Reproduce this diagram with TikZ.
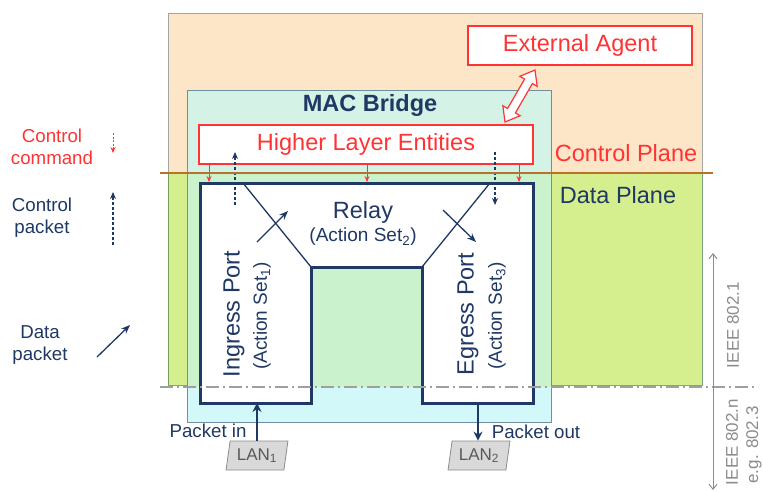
\documentclass[tikz,border=0pt]{standalone}
\usepackage{fontspec}
\setmainfont{Liberation Sans}
\usetikzlibrary{arrows.meta,shapes.geometric}
\definecolor{navyc}{HTML}{1F3864}
\definecolor{redc}{HTML}{FF3333}
\definecolor{orangebg}{HTML}{FDE5C8}
\definecolor{greenbg}{HTML}{D6EF8E}
\definecolor{bridgetop}{HTML}{D4F3E6}
\definecolor{bridgemid}{HTML}{CAF2CC}
\definecolor{bridgebot}{HTML}{D2F8FA}
\definecolor{bridgeline}{HTML}{6F8FA0}
\definecolor{brownc}{HTML}{B8732A}
\definecolor{grayc}{HTML}{8C8C8C}
\definecolor{lantext}{HTML}{595959}
\newcommand\FzBig{\fontsize{23.5}{28}\selectfont}
\newcommand\FzMid{\fontsize{19}{22}\selectfont}
\newcommand\FzLeg{\fontsize{18.7}{22}\selectfont}
\newcommand\FzSm{\fontsize{17}{20}\selectfont}
\begin{document}
\begin{tikzpicture}[x=1pt,y=-1pt,
  redbox/.style={draw=redc, line width=1.8pt, fill=white, text=redc, font=\FzBig, inner sep=0pt},
  navytext/.style={text=navyc, inner sep=0pt},
  dataarrow/.style={draw=navyc, line width=1.3pt, -{Stealth[length=9pt,width=7pt]}},
  pktarrow/.style={draw=navyc, line width=2.4pt, -{Stealth[length=9pt,width=9pt]}},
  ctrlpkt/.style={draw=navyc, line width=1.2pt, dash pattern=on 3pt off 2pt, -{Stealth[length=7pt,width=6pt]}},
  cmdarrow/.style={draw=redc, line width=0.8pt, -{Stealth[length=6pt,width=5pt]}},
  lanbox/.style={trapezium, trapezium left angle=78, trapezium right angle=102, trapezium stretches=true,
     draw=grayc, line width=0.8pt, fill=gray!30, text=lantext, font=\FzSm, minimum width=62, minimum height=29, inner sep=0pt},
  ieee/.style={text=grayc, font=\FzSm, rotate=90, inner sep=0pt}
]
\useasboundingbox (0,0) rectangle (763,491);
% planes
\fill[orangebg] (168,13) rectangle (702,173);
\draw[gray!70, line width=0.8pt] (168,173) -- (168,13) -- (702,13) -- (702,173);
\fill[greenbg] (168,173) rectangle (702,385);
\draw[gray!60!green!60!black, line width=0.8pt, opacity=0.6] (168,173) rectangle (702,385);
% MAC bridge
\fill[bridgetop] (187,90) rectangle (551,173);
\fill[bridgemid] (187,173) rectangle (551,387);
\fill[bridgebot] (187,387) rectangle (551,422);
\draw[bridgeline, line width=0.8pt] (187,90) rectangle (551,422);
\node[navytext, font=\FzBig\bfseries] (mac) at (370,105) {MAC Bridge};
% red boxes
\node[redbox, minimum width=334, minimum height=39] (hle) at (366,144.5) {Higher Layer Entities};
\node[redbox, minimum width=224, minimum height=39] (ea) at (580,45.5) {External Agent};
% double arrow between external agent and higher layer entities
\begin{scope}[shift={(520,96)}, rotate=60]
  \draw[redc, line width=1.2pt, fill=white, line join=miter]
    (-30,0) -- (-17,10) -- (-17,4.5) -- (17,4.5) -- (17,10) -- (30,0) -- (17,-10) -- (17,-4.5) -- (-17,-4.5) -- (-17,-10) -- cycle;
\end{scope}
% U-shaped data plane structure
\coordinate (utl) at (200,183);
\coordinate (utr) at (533,183);
\coordinate (ubr) at (533,403);
\coordinate (uir) at (422,403);
\coordinate (uitr) at (422,267);
\coordinate (uitl) at (311,267);
\coordinate (uil) at (311,403);
\coordinate (ubl) at (200,403);
\draw[draw=navyc, line width=3pt, fill=white, line join=miter]
  (utl) -- (utr) -- (ubr) -- (uir) -- (uitr) -- (uitl) -- (uil) -- (ubl) -- cycle;
\coordinate (dl) at (243,183);
\coordinate (dr) at (490,183);
\draw[navyc, line width=1.3pt] (dl) -- (uitl);
\draw[navyc, line width=1.3pt] (dr) -- (uitr);
% data packet arrows
\coordinate (a1s) at (257,242); \coordinate (a1e) at (288,211);
\coordinate (a2s) at (443,210); \coordinate (a2e) at (476,242);
\draw[dataarrow] (a1s) -- (a1e);
\draw[dataarrow] (a2s) -- (a2e);
% control packet arrows
\coordinate (c1s) at (235,205); \coordinate (c1e) at (235,152);
\coordinate (c2s) at (495,152); \coordinate (c2e) at (495,205);
\draw[ctrlpkt] (c1s) -- (c1e);
\draw[ctrlpkt] (c2s) -- (c2e);
% control command arrows
\coordinate (r1) at (209,182); \coordinate (r2) at (367,182); \coordinate (r3) at (519,182);
\draw[cmdarrow] (hle.south west -| r1) -- (r1);
\draw[cmdarrow] (hle.south west -| r2) -- (r2);
\draw[cmdarrow] (hle.south west -| r3) -- (r3);
% plane separator
\draw[brownc, line width=2.5pt] (160,173) -- (713,173);
\draw[gray!75, line width=1.2pt, dash pattern=on 13pt off 4pt on 2pt off 4pt] (160,387) -- (757,387);
% texts
\node[text=redc, font=\FzBig, inner sep=0pt] (cp) at (626,153) {Control Plane};
\node[navytext, font=\FzBig] (dp) at (618,195) {Data Plane};
\node[navytext, font=\FzBig] (relay) at (363,212) {Relay};
\node[navytext, font=\FzMid] (as2) at (363,237) {(Action Set\textsubscript{2})};
\node[navytext, font=\FzBig, rotate=90] (ing) at (234,314) {Ingress Port};
\node[navytext, font=\FzMid, rotate=90] (as1) at (262,316) {(Action Set\textsubscript{1})};
\node[navytext, font=\FzBig, rotate=90] (egr) at (468,314) {Egress Port};
\node[navytext, font=\FzMid, rotate=90] (as3) at (497,316) {(Action Set\textsubscript{3})};
% LANs and packet in/out
\node[lanbox] (lan1) at (257,455.5) {LAN\textsubscript{1}};
\node[lanbox] (lan2) at (479,455.5) {LAN\textsubscript{2}};
\draw[pktarrow] (lan1.north) -- (lan1.north |- ubl);
\coordinate (pout) at (478,403);
\draw[pktarrow] (pout) -- (pout |- lan2.north);
\node[navytext, font=\FzLeg] (pin) at (208,431) {Packet in};
\node[navytext, font=\FzLeg] (poutt) at (536,432) {Packet out};
% legend
\node[text=redc, font=\FzLeg, align=center, inner sep=0pt] (lcc) at (52,147) {Control\\command};
\node[navytext, font=\FzLeg, align=center] (lcp) at (42,218) {Control\\packet};
\node[navytext, font=\FzLeg, align=center] (ldp) at (40,345) {Data\\packet};
\coordinate (l1s) at (113,133); \coordinate (l1e) at (113,153);
\draw[draw=redc, line width=0.8pt, dash pattern=on 2pt off 1.5pt, -{Stealth[length=6pt,width=5pt]}] (l1s) -- (l1e);
\coordinate (l2s) at (113,245); \coordinate (l2e) at (113,192);
\draw[ctrlpkt] (l2s) -- (l2e);
\coordinate (l3s) at (97,357); \coordinate (l3e) at (130,325);
\draw[dataarrow] (l3s) -- (l3e);
% IEEE scope arrow
\coordinate (it) at (713,253); \coordinate (ib) at (713,490);
\draw[grayc, line width=1pt, {Straight Barb[length=5pt,width=8pt]}-{Straight Barb[length=5pt,width=8pt]}] (it) -- (ib);
\node[ieee] (i1) at (733,325) {IEEE 802.1};
\node[ieee] (i2) at (732,442) {IEEE 802.n};
\node[ieee] (i3) at (754,445) {e.g. 802.3};
\end{tikzpicture}
\end{document}
